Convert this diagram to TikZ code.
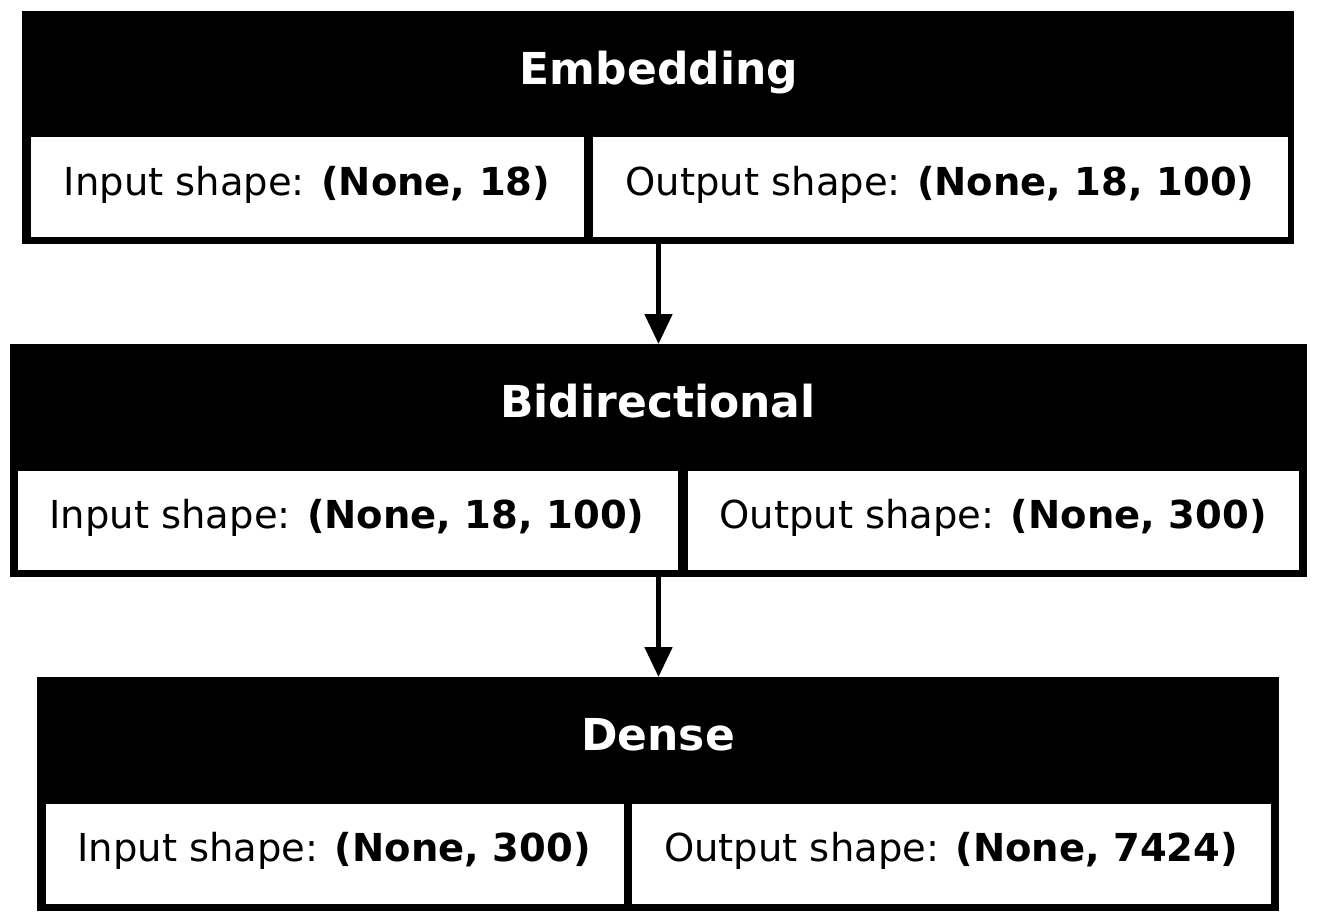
\documentclass[tikz,border=0pt]{standalone}
\usepackage{fontspec}
\setmainfont{DejaVu Sans}
\usetikzlibrary{arrows.meta}
\tikzset{
  layer/.style={rectangle, fill=black, draw=none, inner sep=0pt, outer sep=0pt},
  cellbox/.style={fill=white},
  titletext/.style={anchor=base, text=white, inner sep=0pt, font=\fontsize{44}{52}\selectfont\bfseries},
  bodytext/.style={anchor=base, text=black, inner sep=0pt, font=\fontsize{38.5}{46}\selectfont},
  conn/.style={line width=5pt, -{Triangle[length=30pt,width=27pt]}}
}
\begin{document}
\begin{tikzpicture}[x=1pt,y=-1pt]
\useasboundingbox (0,0) rectangle (1317,922);
% Embedding
\node[layer, minimum width=1272pt, minimum height=233pt] (emb) at (658,127.5) {};
\fill[cellbox] (31,137) rectangle (584,237);
\fill[cellbox] (593,137) rectangle (1288,237);
\node[titletext] (embt) at (659,84) {Embedding};
\node[bodytext] (embi) at (307,195) {Input shape: \textbf{(None, 18)}};
\node[bodytext] (embo) at (940,195) {Output shape: \textbf{(None, 18, 100)}};
% Bidirectional
\node[layer, minimum width=1297pt, minimum height=233pt] (bid) at (658.5,460.5) {};
\fill[cellbox] (18,471) rectangle (678,570);
\fill[cellbox] (688,471) rectangle (1299,570);
\node[titletext] (bidt) at (658,417) {Bidirectional};
\node[bodytext] (bidi) at (347,528) {Input shape: \textbf{(None, 18, 100)}};
\node[bodytext] (bido) at (993,528) {Output shape: \textbf{(None, 300)}};
% Dense
\node[layer, minimum width=1242pt, minimum height=234pt] (den) at (658,794) {};
\fill[cellbox] (46,804) rectangle (624,904);
\fill[cellbox] (632,804) rectangle (1271,904);
\node[titletext] (dent) at (658,750) {Dense};
\node[bodytext] (deni) at (334,861) {Input shape: \textbf{(None, 300)}};
\node[bodytext] (deno) at (951,861) {Output shape: \textbf{(None, 7424)}};
% connectors
\draw[conn] (emb.south -| bid.north) -- (bid.north);
\draw[conn] (bid.south) -- (bid.south |- den.north);
\end{tikzpicture}
\end{document}
